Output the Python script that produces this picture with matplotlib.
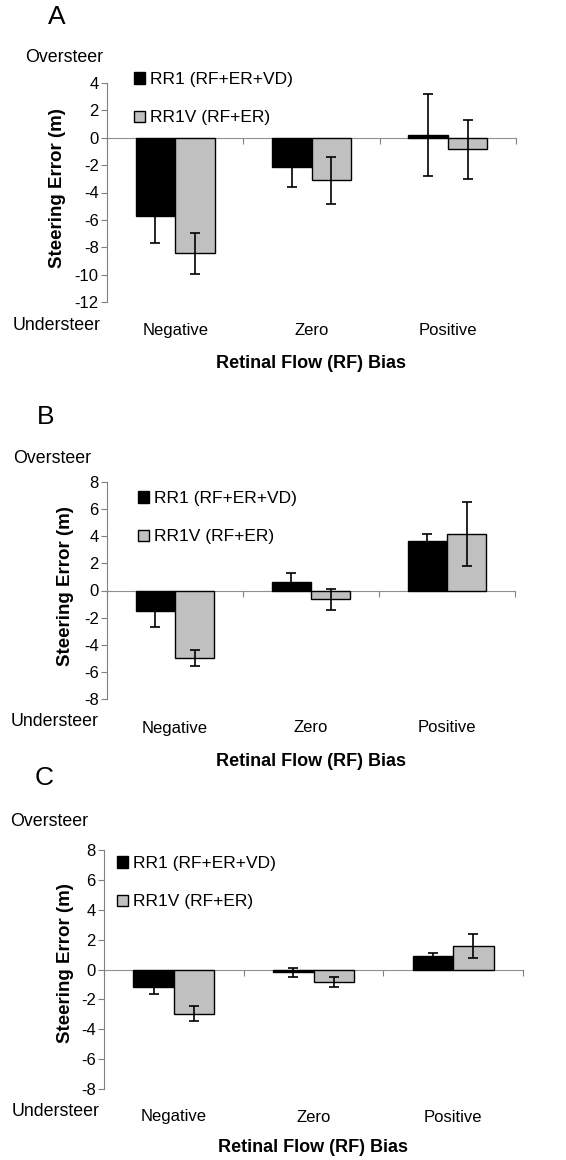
import matplotlib
matplotlib.use("Agg")
import matplotlib.pyplot as plt
from matplotlib.transforms import blended_transform_factory
import numpy as np

plt.rcParams['font.family'] = ['Liberation Sans', 'DejaVu Sans']

categories = ["Negative", "Zero", "Positive"]
series_names = ["RR1 (RF+ER+VD)", "RR1V (RF+ER)"]

# Panel A
a_rr1 = [-5.7, -2.17, 0.2]
a_rr1_err = [2.0, 1.45, 3.0]
a_rr1v = [-8.45, -3.1, -0.85]
a_rr1v_err = [1.5, 1.72, 2.15]
a_ylim = (-12, 4)
a_yticks = [4, 2, 0, -2, -4, -6, -8, -10, -12]

# Panel B
b_rr1 = [-1.52, 0.66, 3.62]
b_rr1_err = [1.18, 0.64, 0.55]
b_rr1v = [-4.96, -0.66, 4.18]
b_rr1v_err = [0.57, 0.75, 2.37]
b_ylim = (-8, 8)
b_yticks = [8, 6, 4, 2, 0, -2, -4, -6, -8]

# Panel C
c_rr1 = [-1.18, -0.2, 0.88]
c_rr1_err = [0.47, 0.28, 0.2]
c_rr1v = [-2.95, -0.85, 1.6]
c_rr1v_err = [0.53, 0.35, 0.8]
c_ylim = (-8, 8)
c_yticks = [8, 6, 4, 2, 0, -2, -4, -6, -8]

W, H = 566, 1160
fig = plt.figure(figsize=(W / 100, H / 100), dpi=100)


def fx(px):
    return px / W


def fy(py):
    return 1 - py / H


def panel(letter, box, rr1, rr1e, rr1v, rr1ve, ylim, yticks, pos):
    left, top, right, bottom = box
    ax = fig.add_axes([fx(left), fy(bottom), fx(right - left), (bottom - top) / H])
    x = np.arange(len(categories))
    w = 0.29
    ax.bar(x - w / 2, rr1, w, color='black', edgecolor='black', linewidth=1.0,
           label=series_names[0], zorder=2)
    ax.bar(x + w / 2, rr1v, w, color='#c0c0c0', edgecolor='black', linewidth=1.0,
           label=series_names[1], zorder=2)
    ax.errorbar(x - w / 2, rr1, yerr=rr1e, fmt='none', ecolor='black',
                elinewidth=1.2, capsize=3.6, capthick=1.2, zorder=3)
    ax.errorbar(x + w / 2, rr1v, yerr=rr1ve, fmt='none', ecolor='black',
                elinewidth=1.2, capsize=3.6, capthick=1.2, zorder=3)
    ax.set_xlim(-0.5, len(categories) - 0.5)
    ax.set_ylim(*ylim)
    ax.set_yticks(yticks)
    ax.set_yticklabels([str(t) for t in yticks], fontsize=12)
    ax.set_xticks(np.arange(len(categories) + 1) - 0.5)
    ax.set_xticklabels([])
    for s in ['top', 'right']:
        ax.spines[s].set_visible(False)
    ax.spines['bottom'].set_position(('data', 0))
    ax.spines['bottom'].set_color('#909090')
    ax.spines['bottom'].set_zorder(1)
    ax.spines['left'].set_color('#808080')
    ax.tick_params(axis='y', direction='out', length=4, color='#808080', pad=2)
    ax.tick_params(axis='x', direction='out', length=4, color='#808080')
    ax.patch.set_visible(False)

    # Legend
    ax.legend(loc='upper left',
              bbox_to_anchor=(fx(pos['leg_x']), fy(pos['leg_y'])),
              bbox_transform=fig.transFigure, frameon=False,
              fontsize=12.5, handlelength=0.65, handleheight=0.65,
              handletextpad=0.3, labelspacing=1.35, borderpad=0,
              borderaxespad=0)

    trans = blended_transform_factory(ax.transData, fig.transFigure)
    for i, c in enumerate(categories):
        ax.text(x[i], fy(pos['cat_y']), c, transform=trans, ha='center',
                va='center', fontsize=12)
    xc = (left + right) / 2
    fig.text(fx(xc), fy(pos['xlab_y']), "Retinal Flow (RF) Bias", ha='center',
             va='center', fontsize=13, fontweight='bold')
    fig.text(fx(pos['ylab_x']), fy(pos['ylab_y']), "Steering Error (m)",
             rotation=90, ha='center', va='center', fontsize=13.5,
             fontweight='bold')
    fig.text(fx(pos['over_x']), fy(pos['over_y']), "Oversteer", ha='left',
             va='center', fontsize=12.8)
    fig.text(fx(pos['under_x']), fy(pos['under_y']), "Understeer", ha='left',
             va='center', fontsize=12.8)
    fig.text(fx(pos['let_x']), fy(pos['let_y']), letter, ha='left',
             va='center', fontsize=19)
    return ax


panel("A", (107, 83, 516, 302), a_rr1, a_rr1_err, a_rr1v, a_rr1v_err,
      a_ylim, a_yticks,
      dict(leg_x=134, leg_y=72, cat_y=330, xlab_y=363, ylab_x=57, ylab_y=188,
           over_x=25, over_y=57, under_x=13, under_y=325, let_x=48, let_y=17))
panel("B", (107, 482, 515, 699), b_rr1, b_rr1_err, b_rr1v, b_rr1v_err,
      b_ylim, b_yticks,
      dict(leg_x=138, leg_y=491, cat_y=728, xlab_y=761, ylab_x=66, ylab_y=586,
           over_x=13, over_y=458, under_x=11, under_y=722, let_x=37, let_y=417))
panel("C", (104, 850, 523, 1089), c_rr1, c_rr1_err, c_rr1v, c_rr1v_err,
      c_ylim, c_yticks,
      dict(leg_x=117, leg_y=856, cat_y=1117, xlab_y=1148, ylab_x=65, ylab_y=963,
           over_x=10, over_y=822, under_x=12, under_y=1111, let_x=35, let_y=778))

fig.savefig("out.png", dpi=100)
